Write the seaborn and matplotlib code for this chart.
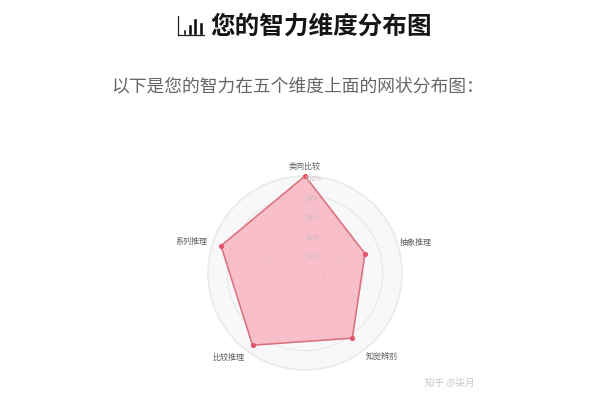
import numpy as np
import matplotlib
matplotlib.use('Agg')
import matplotlib.pyplot as plt
import seaborn as sns

# data
dimensions = ['类同比较', '抽象推理', '知觉辨别', '比较推理', '系列推理']
scores = [100, 65, 83, 92, 91]
ring_levels = [20, 40, 60, 80, 100]
ring_labels = ['20%', '40%', '60%', '80%', '100%']
icon_bars = ['a', 'b', 'c', 'd']
icon_heights = [3, 6, 9, 7]

title = '您的智力维度分布图'
subtitle = '以下是您的智力在五个维度上面的网状分布图：'
watermark = '知乎 @柒月'


def main():
    sns.set_theme(style='white')
    plt.rcParams['font.family'] = ['Noto Sans CJK SC', 'DejaVu Sans']

    fig = plt.figure(figsize=(6, 4), dpi=100, facecolor='white')
    fig.text(321 / 600, 1 - 27 / 400, title, fontsize=17.7, fontweight='bold',
             color='#151515', ha='center', va='center')
    fig.text(111.5 / 600, 1 - 86 / 400, subtitle, fontsize=12.8,
             color='#666666', ha='left', va='center')
    fig.text(425 / 600, 1 - 383 / 400, watermark, fontsize=6.9,
             color='#c8c8c8', ha='left', va='center')

    # small bar icon in front of the title
    icon = fig.add_axes([178 / 600, 1 - 35 / 400, 26 / 600, 19 / 400])
    sns.barplot(x=icon_bars, y=icon_heights, color='#111111', width=0.72,
                saturation=1, ax=icon)
    icon.set_ylim(0, 10)
    icon.set_xlim(-1.2, 3.6)
    icon.set(xticks=[], yticks=[], xlabel='', ylabel='')
    icon.patch.set_alpha(0)
    for side in ['top', 'right']:
        icon.spines[side].set_visible(False)
    for side in ['left', 'bottom']:
        icon.spines[side].set_color('#222222')
        icon.spines[side].set_linewidth(0.9)

    # radar, centre (305, 273), radius 97 px
    ax = fig.add_axes([208 / 600, 1 - 370 / 400, 194 / 600, 194 / 400],
                      projection='polar')
    ax.set_theta_zero_location('N')
    ax.set_theta_direction(-1)
    ax.set_ylim(0, 100)
    ax.spines['polar'].set_color('#ebebee')
    ax.spines['polar'].set_linewidth(1.2)
    ax.patch.set_facecolor('#f8f8fa')

    angles = np.arange(len(dimensions)) * 2 * np.pi / len(dimensions)

    ax.set_yticks(ring_levels)
    ax.set_yticklabels([])
    ax.yaxis.grid(True, color='#e9e9ec', linewidth=0.9)
    ax.set_xticks(angles)
    ax.set_xticklabels([])
    ax.xaxis.grid(True, color='#f1f1f3', linewidth=0.5)

    closed_angles = np.append(angles, angles[0])
    closed_scores = np.append(scores, scores[0])
    ax.fill(closed_angles, closed_scores, color='#f8a8b6', alpha=0.7, zorder=2)
    sns.lineplot(x=closed_angles, y=closed_scores, sort=False, estimator=None,
                 color='#d9727f', linewidth=1.1, ax=ax, zorder=3)
    sns.scatterplot(x=angles, y=scores, color='#e2566a', s=14, linewidth=0,
                    ax=ax, zorder=4, clip_on=False)
    ax.set(xlabel='', ylabel='')

    # category names placed around the outer ring
    label_radius = [110, 103, 106, 107, 106]
    label_align = ['center', 'left', 'left', 'right', 'right']
    for angle, name, radius, align in zip(angles, dimensions, label_radius, label_align):
        ax.text(angle, radius, name, fontsize=5.8, color='#5f5f5f', ha=align,
                va='center', clip_on=False)

    for level, label in zip(ring_levels, ring_labels):
        ax.annotate(label, (0, level), xytext=(5.5, -2.5),
                    textcoords='offset points', fontsize=4.6, color='#cdbdc2',
                    ha='center', va='center', zorder=5)

    fig.savefig('out.png', dpi=100)


if __name__ == '__main__':
    main()
